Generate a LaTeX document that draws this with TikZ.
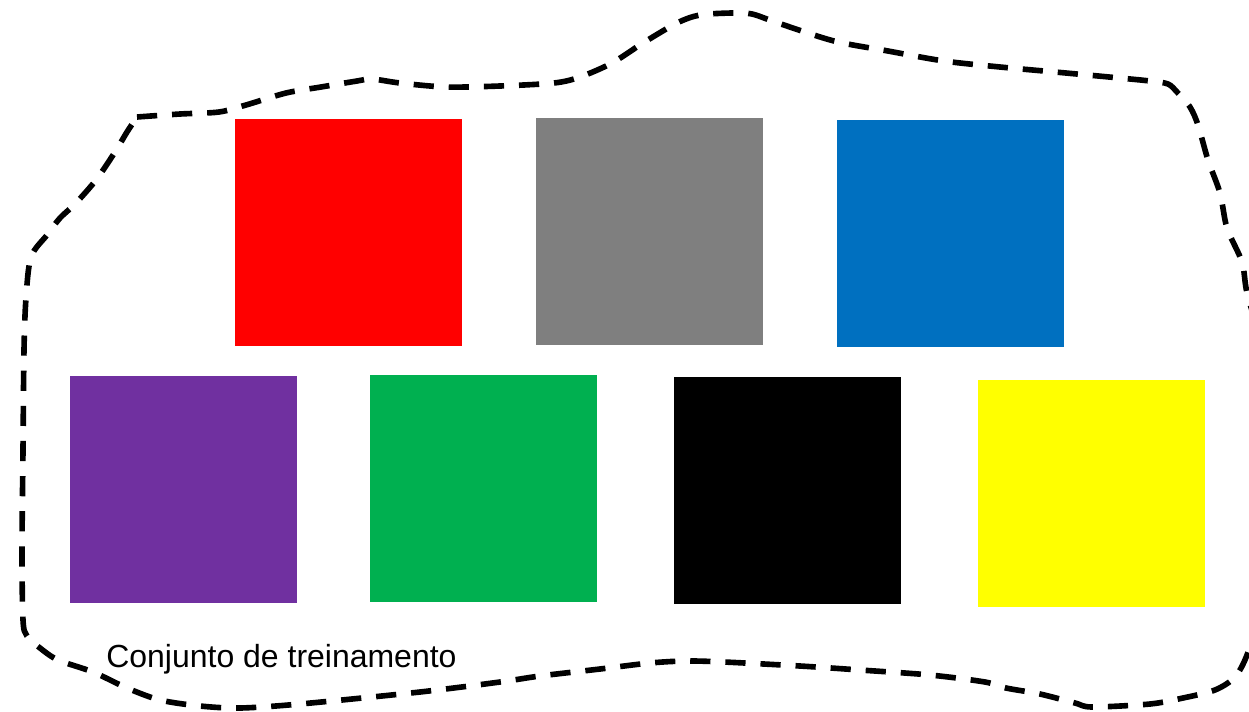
\documentclass[tikz,border=0pt]{standalone}
\usepackage{fontspec}
\setmainfont{Liberation Sans}
\definecolor{cred}{HTML}{FF0000}
\definecolor{cgray}{HTML}{7F7F7F}
\definecolor{cblue}{HTML}{0070C0}
\definecolor{cpurple}{HTML}{7030A0}
\definecolor{cgreen}{HTML}{00B050}
\definecolor{cyellow}{HTML}{FFFF00}
\tikzset{
  sq/.style={rectangle, minimum size=4.54cm, inner sep=0pt, outer sep=0pt, draw=none},
  outline/.style={line width=3.2pt, dash pattern=on 11.5pt off 8.5pt, line join=round},
  lbl/.style={font=\fontsize{18.2}{21}\selectfont, inner sep=0pt, anchor=base west}
}
\begin{document}
\begin{tikzpicture}[x=0.02cm,y=-0.02cm]
\useasboundingbox (0,0) rectangle (1249,711);
\clip (0,0) rectangle (1249,711);
\fill[white] (0,0) rectangle (1249,711);
\node[sq, fill=cred] (red) at (348.5,232.5) {};
\node[sq, fill=cgray] (gray) at (649.5,231.5) {};
\node[sq, fill=cblue] (blue) at (950.5,233.5) {};
\node[sq, fill=cpurple] (purple) at (183.5,489.5) {};
\node[sq, fill=cgreen] (green) at (483.5,488.5) {};
\node[sq, fill=black] (black) at (787.5,490.5) {};
\node[sq, fill=cyellow] (yellow) at (1091.5,493.5) {};
\draw[outline] plot[smooth, tension=0.5] coordinates {
 (137,117) (180,114) (219,112) (246,105) (286,93) (321,87) (357,81) (372,79)
 (400,83) (446,87) (500,86) (554,83) (580,77) (612,63) (643,43) (677,23)
 (700,15) (732,13) (752,14) (778,23) (834,41) (888,51) (944,61) (1000,67)
 (1055,72) (1109,77) (1150,81) (1168,84) (1177,92) (1190,107) (1198,125)
 (1208,160) (1220,193) (1227,228) (1242,262) (1247,293) (1262,350)
 (1272,450) (1268,550) (1257,620) (1247,655) (1235,677) (1215,690)
 (1183,698) (1150,704) (1092,707) (1075,703) (1040,694) (1006,688)
 (985,682) (930,675) (860,670) (800,666) (724,662) (686,661) (650,663)
 (600,669) (540,676) (500,682) (420,692) (300,704) (240,708) (200,706)
 (160,700) (127,688) (93,672) (58,660) (40,648) (27,636) (23,620)
 (22,550) (23,450) (24,350) (26,298) (31,257) (47,235) (60,218)
 (75,204) (96,180) (115,152) (127,132) (137,117)};
\node[lbl] (label) at (106,667) {Conjunto de treinamento};
\end{tikzpicture}
\end{document}
